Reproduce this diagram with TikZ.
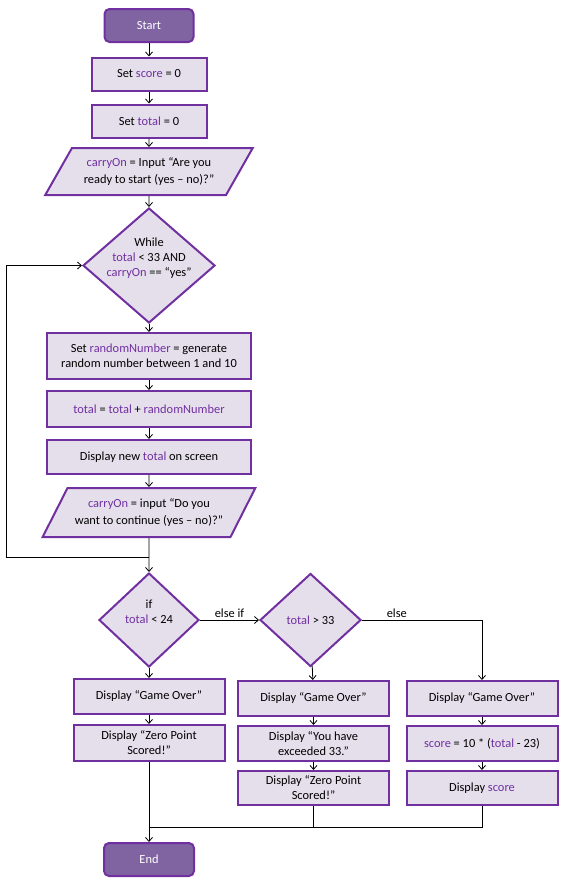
\documentclass[tikz,border=0pt]{standalone}
\usepackage{fontspec}
\setmainfont{Carlito}
\usetikzlibrary{shapes.geometric,arrows.meta}
\definecolor{pborder}{HTML}{7030A0}
\definecolor{pfill}{HTML}{E5DFEC}
\definecolor{pterm}{HTML}{8064A2}
\definecolor{pvar}{HTML}{7030A0}
\newcommand{\vr}[1]{\textcolor{pvar}{#1}}
\begin{document}
\begin{tikzpicture}[x=1pt,y=-1pt,
 every node/.style={font=\fontsize{12.4}{15}\selectfont},
 box/.style={draw=pborder, fill=pfill, line width=2pt, rectangle, inner sep=0pt, align=center},
 term/.style={draw=pborder, fill=pterm, line width=2pt, rounded corners=5pt, text=white, minimum width=89pt, minimum height=33pt},
 dec/.style={diamond, draw=pborder, fill=pfill, line width=2pt, inner sep=0pt, align=center},
 dtext/.style={label={[align=center, yshift=#1, font=\fontsize{12.4}{15}\selectfont]center:{\vphantom{X}}}},
 io/.style={trapezium, trapezium left angle=51, trapezium right angle=129, trapezium stretches=true, draw=pborder, fill=pfill, line width=2pt, inner sep=0pt, align=center, font=\fontsize{12.4}{17}\selectfont},
 arr/.style={-{Straight Barb[length=4pt,width=7pt]}, line width=0.8pt},
 ln/.style={line width=0.8pt}]
\useasboundingbox (0,0) rectangle (565,886);
\node[term] (start) at (149,25.5) {Start};
\node[box, minimum width=115, minimum height=33] (s1) at (149,74) {Set \vr{score} = 0};
\node[box, minimum width=115, minimum height=33] (s2) at (149,121) {Set \vr{total} = 0};
\node[io, minimum width=208, minimum height=47] (in1) at (149,171.5) {\vr{carryOn} = Input “Are you\\ready to start (yes – no)?”};
\node[dec, minimum width=132, minimum height=115,
  label={[align=center, yshift=7pt, font=\fontsize{12.4}{15}\selectfont]center:While\\\vr{total} < 33 AND\\\vr{carryOn} == “yes”}] (wh) at (149,265.5) {};
\node[box, minimum width=204, minimum height=46] (r1) at (149,356) {Set \vr{randomNumber} = generate\\random number between 1 and 10};
\node[box, minimum width=204, minimum height=36] (r2) at (149,409) {\vr{total} = \vr{total} + \vr{randomNumber}};
\node[box, minimum width=204, minimum height=34] (r3) at (149,457) {Display new \vr{total} on screen};
\node[io, minimum width=213, minimum height=49] (in2) at (149,512.5) {\vr{carryOn} = input “Do you\\want to continue (yes – no)?”};
\coordinate (j1) at (149,557);
\coordinate (lp) at (6,557);
\node[dec, minimum width=100, minimum height=94,
  label={[align=center, yshift=8pt, font=\fontsize{12.4}{15}\selectfont]center:if\\\vr{total} < 24}] (if1) at (149,620) {};
\node[dec, minimum width=101, minimum height=93] (if2) at (310.5,620) {\vr{total} > 33};
\node[box, minimum width=151, minimum height=35] (a1) at (149,696.5) {Display “Game Over”};
\node[box, minimum width=151, minimum height=36] (a2) at (149,743) {Display “Zero Point\\Scored!”};
\node[box, minimum width=151, minimum height=35] (b1) at (313.5,698.5) {Display “Game Over”};
\node[box, minimum width=151, minimum height=35] (b2) at (313.5,743.5) {Display “You have\\exceeded 33.”};
\node[box, minimum width=151, minimum height=34] (b3) at (313.5,788) {Display “Zero Point\\Scored!”};
\node[box, minimum width=151, minimum height=35] (c1) at (482,698.5) {Display “Game Over”};
\node[box, minimum width=151, minimum height=35] (c2) at (482,743.5) {\vr{score} = 10 * (\vr{total} - 23)};
\node[box, minimum width=151, minimum height=34] (c3) at (482,788) {Display \vr{score}};
\coordinate (j2) at (149,827);
\node[term, minimum width=90] (end) at (149,859.5) {End};
\draw[arr] (start) -- (s1);
\draw[arr] (s1) -- (s2);
\draw[arr] (s2) -- (in1);
\draw[arr] (in1) -- (wh);
\draw[arr] (wh) -- (r1);
\draw[arr] (r1) -- (r2);
\draw[arr] (r2) -- (r3);
\draw[arr] (r3) -- (in2);
\draw[arr] (in2) -- (if1);
\draw[arr] (j1) -- (lp) |- (wh.west);
\draw[arr] (if1.east) -- node[above, inner sep=2pt]{else if} (if2.west);
\draw[arr] (if2.east) -| node[pos=0.145, above, inner sep=2pt]{else} (c1.north);
\draw[arr] (if1) -- (a1);
\draw[arr] (a1) -- (a2);
\draw[arr] (a2) -- (end);
\draw[arr] (if2) -- (b1);
\draw[arr] (b1) -- (b2);
\draw[arr] (b2) -- (b3);
\draw[arr] (c1) -- (c2);
\draw[arr] (c2) -- (c3);
\draw[ln] (b3) |- (j2);
\draw[ln] (c3) |- (j2);
\end{tikzpicture}
\end{document}
